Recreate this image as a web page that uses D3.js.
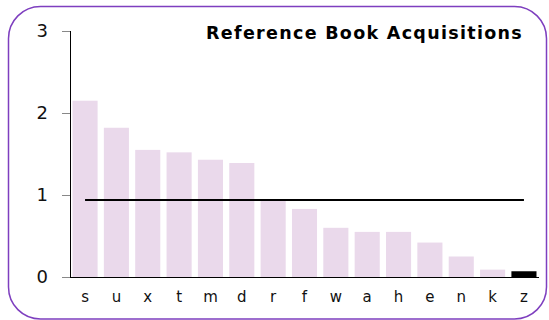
<!DOCTYPE html>
<html>
<head>
<meta charset="utf-8">
<script src="https://cdn.jsdelivr.net/npm/d3@7"></script>
<style>
  html, body { margin: 0; padding: 0; background: #fff; }
  svg { display: block; font-family: "DejaVu Sans", Verdana, sans-serif; }
</style>
</head>
<body>
<svg id="chart" width="549" height="320"></svg>
<script>
// Acquisitions per category letter
const categories = ["s", "u", "x", "t", "m", "d", "r", "f", "w", "a", "h", "e", "n", "k", "z"];
const values = [2.15, 1.82, 1.55, 1.52, 1.43, 1.39, 0.95, 0.83, 0.60, 0.55, 0.55, 0.42, 0.25, 0.09, 0.07];
const highlighted = ["z"];
const referenceLevel = 0.94;
const yTicks = [0, 1, 2, 3];
const title = "Reference Book Acquisitions";

const svg = d3.select("#chart");

// Rounded frame
svg.append("rect")
  .attr("x", 8.5).attr("y", 6.5)
  .attr("width", 538).attr("height", 312.5)
  .attr("rx", 32).attr("ry", 32)
  .attr("fill", "none")
  .attr("stroke", "#7e3fbf")
  .attr("stroke-width", 1.5);

const x = d3.scaleBand()
  .domain(categories)
  .range([70, 539])
  .paddingInner(0.2)
  .paddingOuter(0.08);

const y = d3.scaleLinear()
  .domain([0, 3])
  .range([277, 31]);

// Bars
svg.append("g").selectAll("rect")
  .data(categories.map((c, i) => ({ c, v: values[i] })))
  .join("rect")
  .attr("x", d => x(d.c))
  .attr("width", x.bandwidth())
  .attr("y", d => y(d.v))
  .attr("height", d => y(0) - y(d.v))
  .attr("fill", d => highlighted.includes(d.c) ? "#000" : "#ead9eb");

// Reference line across bar centres
svg.append("line")
  .attr("x1", x(categories[0]) + x.bandwidth() / 2)
  .attr("x2", x(categories[categories.length - 1]) + x.bandwidth() / 2)
  .attr("y1", y(referenceLevel))
  .attr("y2", y(referenceLevel))
  .attr("stroke", "#000")
  .attr("stroke-width", 2);

// Y axis
const yAxis = svg.append("g")
  .attr("transform", "translate(70,0)")
  .call(d3.axisLeft(y).tickValues(yTicks).tickFormat(d3.format("d")).tickSize(8).tickPadding(14));
yAxis.select(".domain").attr("stroke", "#000").attr("d", `M0.5,${y(3)}V${y(0)}`);
yAxis.selectAll(".tick line").attr("stroke", "#888");
yAxis.selectAll(".tick text")
  .attr("font-size", 18)
  .attr("fill", "#111")
  .style("font-family", "'DejaVu Sans', Verdana, sans-serif");

// X axis
const xAxis = svg.append("g")
  .attr("transform", `translate(0,${y(0)})`)
  .call(d3.axisBottom(x).tickSize(0).tickPadding(14));
xAxis.select(".domain").attr("stroke", "#000").attr("d", `M70,0.5H539`);
xAxis.selectAll(".tick text")
  .attr("font-size", 15)
  .attr("fill", "#111")
  .style("font-family", "'DejaVu Sans', Verdana, sans-serif");

// Title
svg.append("text")
  .attr("x", 523).attr("y", 39)
  .attr("text-anchor", "end")
  .attr("font-size", 17.5)
  .attr("font-weight", "bold")
  .attr("letter-spacing", 1.3)
  .attr("fill", "#000")
  .text(title);
</script>
</body>
</html>
